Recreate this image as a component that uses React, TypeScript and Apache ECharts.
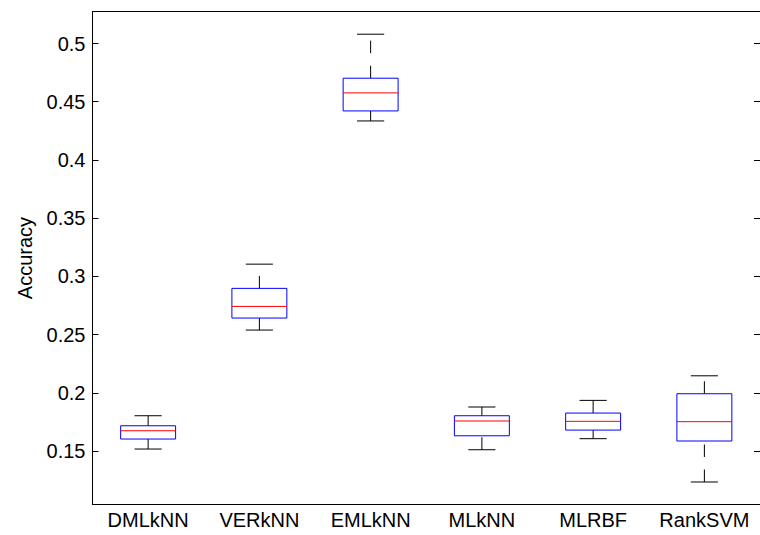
import React, { useEffect, useRef } from "react";
import * as echarts from "echarts";

// Box plot summary per method: whisker ends, quartiles and median
const methods = ["DMLkNN", "VERkNN", "EMLkNN", "MLkNN", "MLRBF", "RankSVM"];
const lowerWhisker = [0.1517, 0.2539, 0.4335, 0.1511, 0.1606, 0.1234];
const firstQuartile = [0.1603, 0.2642, 0.4421, 0.1631, 0.168, 0.1586];
const medians = [0.1674, 0.2742, 0.4576, 0.1758, 0.1755, 0.1752];
const thirdQuartile = [0.1717, 0.2897, 0.4702, 0.1803, 0.1826, 0.1992];
const upperWhisker = [0.1803, 0.3105, 0.508, 0.1878, 0.1935, 0.2146];

const yTicks = [0.15, 0.2, 0.25, 0.3, 0.35, 0.4, 0.45, 0.5];
const yMin = 0.1045;
const yMax = 0.5275;

const FONT = "'Liberation Sans', Arial, Helvetica, sans-serif";

export default function App() {
  const ref = useRef<HTMLDivElement>(null);

  useEffect(() => {
    if (!ref.current) return;
    const chart = echarts.init(ref.current, undefined, { renderer: "svg" });

    const boxData = methods.map((_, i) => [
      i,
      lowerWhisker[i],
      firstQuartile[i],
      medians[i],
      thirdQuartile[i],
      upperWhisker[i],
    ]);

    const renderBox = (params: any, api: any) => {
      const idx = api.value(0);
      const vals = [1, 2, 3, 4, 5].map((k) => api.value(k));
      const x = api.coord([idx, vals[0]])[0];
      const y = vals.map((v: number) => api.coord([idx, v])[1]);
      const band = api.size([1, 0])[0];
      const half = band * 0.247;
      const capHalf = band * 0.122;
      const black = { stroke: "#000", lineWidth: 1, fill: "none" };
      const dashed = { ...black, lineDash: [12.5, 12.5] };
      return {
        type: "group",
        children: [
          { type: "line", shape: { x1: x, y1: y[0], x2: x, y2: y[1] }, style: dashed },
          { type: "line", shape: { x1: x, y1: y[3], x2: x, y2: y[4] }, style: dashed },
          { type: "line", shape: { x1: x - capHalf, y1: y[0], x2: x + capHalf, y2: y[0] }, style: black },
          { type: "line", shape: { x1: x - capHalf, y1: y[4], x2: x + capHalf, y2: y[4] }, style: black },
          {
            type: "rect",
            shape: { x: x - half, y: y[3], width: half * 2, height: y[1] - y[3] },
            style: { stroke: "#0000ff", lineWidth: 1, fill: "none" },
          },
          {
            type: "line",
            shape: { x1: x - half, y1: y[2], x2: x + half, y2: y[2] },
            style: { stroke: "#ff0000", lineWidth: 1 },
          },
        ],
      };
    };

    const axisLine = { show: true, onZero: false, lineStyle: { color: "#000", width: 1 } };
    const tickStyle = { color: "#000", width: 1 };

    chart.setOption({
      animation: false,
      backgroundColor: "#fff",
      grid: { left: 92.5, top: 11.5, width: 669, height: 492.5, containLabel: false },
      xAxis: [
        {
          type: "category",
          data: methods,
          position: "bottom",
          axisLine,
          axisTick: { inside: true, alignWithLabel: true, length: 6, lineStyle: tickStyle },
          axisLabel: { color: "#000", fontSize: 20, fontFamily: FONT, margin: 6, interval: 0 },
          splitLine: { show: false },
        },
        {
          type: "category",
          data: methods,
          position: "top",
          axisLine,
          axisTick: { inside: true, alignWithLabel: true, length: 6, lineStyle: tickStyle },
          axisLabel: { show: false },
          splitLine: { show: false },
        },
      ],
      yAxis: [
        {
          type: "value",
          min: yMin,
          max: yMax,
          position: "left",
          axisLine,
          axisTick: { show: true, inside: true, length: 6, lineStyle: tickStyle, customValues: yTicks },
          axisLabel: {
            color: "#000",
            fontSize: 20,
            fontFamily: FONT,
            margin: 7,
            customValues: yTicks,
            formatter: (v: number) => String(parseFloat(v.toFixed(2))),
          },
          splitLine: { show: false },
        },
        {
          type: "value",
          min: yMin,
          max: yMax,
          position: "right",
          axisLine,
          axisTick: { show: true, inside: true, length: 6, lineStyle: tickStyle, customValues: yTicks },
          axisLabel: { show: false },
          splitLine: { show: false },
        },
      ],
      graphic: [
        {
          type: "text",
          x: 24.5,
          y: 258,
          rotation: Math.PI / 2,
          style: {
            text: "Accuracy",
            fontSize: 20,
            fontFamily: FONT,
            fill: "#000",
            align: "center",
            verticalAlign: "middle",
          },
        },
      ],
      series: [
        {
          type: "custom",
          xAxisIndex: 0,
          yAxisIndex: 0,
          renderItem: renderBox,
          encode: { x: 0, y: [1, 2, 3, 4, 5] },
          data: boxData,
          clip: false,
        },
      ],
    });

    return () => chart.dispose();
  }, []);

  return (
    <div
      ref={ref}
      style={{ position: "fixed", left: 0, top: 0, width: 760, height: 535 }}
    />
  );
}
